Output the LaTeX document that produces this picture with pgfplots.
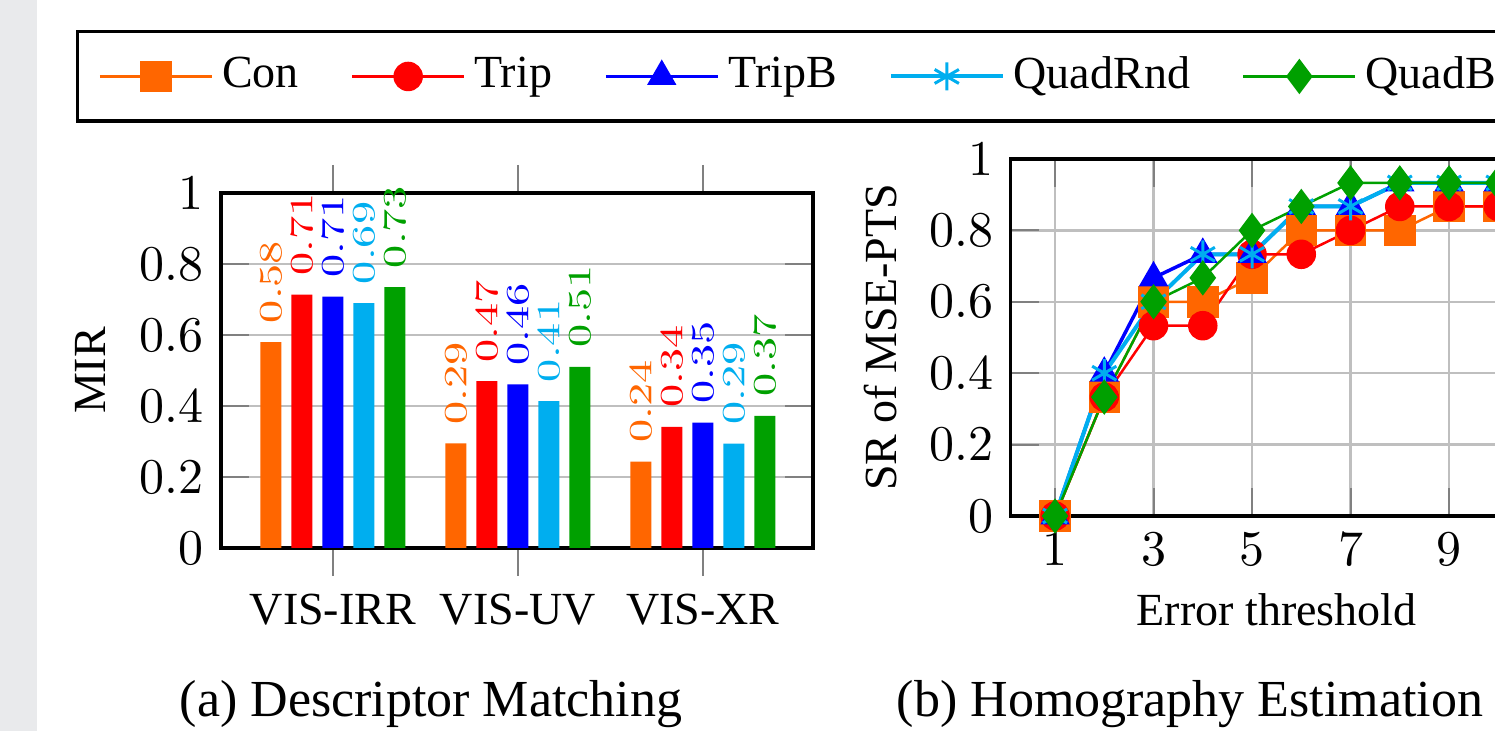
\documentclass[border=0pt]{standalone}
\usepackage[no-math]{fontspec}
\setmainfont{Liberation Serif}
\usepackage{pgfplots}
\pgfplotsset{compat=1.18}
\usepackage{pgfplotstable}

\definecolor{corange}{HTML}{FF6600}
\definecolor{cred}{HTML}{FF0000}
\definecolor{cblue}{HTML}{0000FF}
\definecolor{ccyan}{HTML}{00AEEF}
\definecolor{cgreen}{HTML}{00A000}
\definecolor{stripgray}{HTML}{E9EAEC}

% bar data (MIR), x: 0=VIS-IRR, 1=VIS-UV, 2=VIS-XR
\pgfplotstableread{
x y lab
0 0.580 0.58
1 0.295 0.29
2 0.243 0.24
}\barCon
\pgfplotstableread{
x y lab
0 0.714 0.71
1 0.470 0.47
2 0.341 0.34
}\barTrip
\pgfplotstableread{
x y lab
0 0.708 0.71
1 0.461 0.46
2 0.353 0.35
}\barTripB
\pgfplotstableread{
x y lab
0 0.690 0.69
1 0.414 0.41
2 0.294 0.29
}\barQuadRnd
\pgfplotstableread{
x y lab
0 0.735 0.73
1 0.510 0.51
2 0.372 0.37
}\barQuadB

% line data (SR of MSE-PTS vs error threshold)
\pgfplotstableread{
x y
1 0
2 0.333
3 0.600
4 0.600
5 0.667
6 0.800
7 0.800
8 0.800
9 0.867
10 0.867
}\lineCon
\pgfplotstableread{
x y
1 0
2 0.333
3 0.533
4 0.533
5 0.733
6 0.733
7 0.800
8 0.867
9 0.867
10 0.867
}\lineTrip
\pgfplotstableread{
x y
1 0
2 0.400
3 0.667
4 0.733
5 0.733
6 0.867
7 0.867
8 0.933
9 0.933
10 0.933
}\lineTripB
\pgfplotstableread{
x y
1 0
2 0.400
3 0.600
4 0.733
5 0.733
6 0.867
7 0.867
8 0.933
9 0.933
10 0.933
}\lineQuadRnd
\pgfplotstableread{
x y
1 0
2 0.333
3 0.600
4 0.667
5 0.800
6 0.867
7 0.933
8 0.933
9 0.933
10 0.933
}\lineQuadB

\pgfplotsset{
  common/.style={
    scale only axis,
    ymin=0, ymax=1,
    ytick={0,0.2,0.4,0.6,0.8,1},
    grid style={gray!50, line width=0.5pt},
    major tick length=5.6pt,
    tick style={gray, line width=0.4pt},
    axis line style={line width=0.7pt},
    tick label style={font=\fontsize{10}{12}\selectfont},
    label style={font=\fontsize{9.2}{11}\selectfont},
  }
}

\begin{document}
\begin{tikzpicture}
\useasboundingbox (0,0) rectangle (299pt,-146.2pt);
\clip (0,0) rectangle (299pt,-146.2pt);
\fill[stripgray] (0,0) rectangle (7.4pt,-146.2pt);

% (a) Descriptor Matching
\begin{axis}[common,
  at={(44.2pt,-109.6pt)}, anchor=south west,
  width=118.4pt, height=71pt,
  xmin=-0.605, xmax=2.595,
  ybar=2pt, bar width=4.2pt,
  xtick={0,1,2}, xticklabels={VIS-IRR,VIS-UV,VIS-XR},
  xtick align=outside,
  xticklabel style={font=\fontsize{9.2}{11}\selectfont},
  ymajorgrids,
  ylabel={MIR},
  ylabel style={at={(axis description cs:-0.2213,0.5)}, anchor=center},
  point meta=explicit symbolic,
  nodes near coords={\scalebox{1}[0.72]{$\pgfplotspointmeta$}},
  nodes near coords style={font=\fontsize{8.6}{10}\selectfont, rotate=90, anchor=west, inner sep=3.6pt},
]
\addplot[fill=corange, draw=none, every node near coord/.append style={text=corange}] table[x=x,y=y,meta=lab]{\barCon};
\addplot[fill=cred, draw=none, every node near coord/.append style={text=cred}] table[x=x,y=y,meta=lab]{\barTrip};
\addplot[fill=cblue, draw=none, every node near coord/.append style={text=cblue}] table[x=x,y=y,meta=lab]{\barTripB};
\addplot[fill=ccyan, draw=none, every node near coord/.append style={text=ccyan}] table[x=x,y=y,meta=lab]{\barQuadRnd};
\addplot[fill=cgreen, draw=none, every node near coord/.append style={text=cgreen}] table[x=x,y=y,meta=lab]{\barQuadB};
\end{axis}

% (b) Homography Estimation
\begin{axis}[common,
  at={(202.14pt,-103.2pt)}, anchor=south west,
  width=106.38pt, height=71.4pt,
  xmin=0.1, xmax=10.9,
  xtick={1,3,5,7,9},
  grid=major,
  clip=false,
  xlabel={Error threshold},
  xlabel style={at={(axis description cs:0.5,-0.308)}, anchor=base},
  ylabel={SR of MSE-PTS},
  ylabel style={at={(axis description cs:-0.2456,0.5)}, anchor=center},
  legend columns=5,
  legend style={at={(-1.7573,1.3613)}, anchor=north west,
    draw=black, line width=0.7pt, fill=white,
    font=\fontsize{9.2}{11}\selectfont,
    inner xsep=4.2pt, inner ysep=5pt,
    nodes={inner sep=0pt},
    /tikz/every even column/.append style={column sep=10.4pt},
    /tikz/every odd column/.append style={column sep=1.8pt},
  },
  legend cell align=left,
  legend image code/.code={\draw[mark repeat=2,mark phase=2] plot coordinates {(0pt,0pt) (11.2pt,0pt) (22.4pt,0pt)};},
]
\addplot[color=corange, line width=0.5pt, mark=square*, mark size=3pt, mark options={solid, line width=0.3pt, fill=corange}] table{\lineCon};
\addplot[color=cred, line width=0.5pt, mark=*, mark size=2.8pt, mark options={solid, line width=0.3pt, fill=cred}] table{\lineTrip};
\addplot[color=cblue, line width=0.7pt, mark=triangle*, mark size=3.1pt, mark options={solid, line width=0.3pt, fill=cblue}] table{\lineTripB};
\addplot[color=ccyan, line width=0.8pt, mark=asterisk, mark size=2.8pt, mark options={solid, line width=0.6pt}] table{\lineQuadRnd};
\addplot[color=cgreen, line width=0.5pt, mark=diamond*, mark size=3.3pt, mark options={solid, line width=0.3pt, fill=cgreen}] table{\lineQuadB};
\legend{Con,Trip,TripB,QuadRnd,QuadB}
\end{axis}

\node[font=\fontsize{10.4}{12.5}\selectfont, anchor=base] at (86.2pt,-143.4pt) {(a) Descriptor Matching};
\node[font=\fontsize{10.4}{12.5}\selectfont, anchor=base] at (238pt,-143.4pt) {(b) Homography Estimation};
\end{tikzpicture}
\end{document}
